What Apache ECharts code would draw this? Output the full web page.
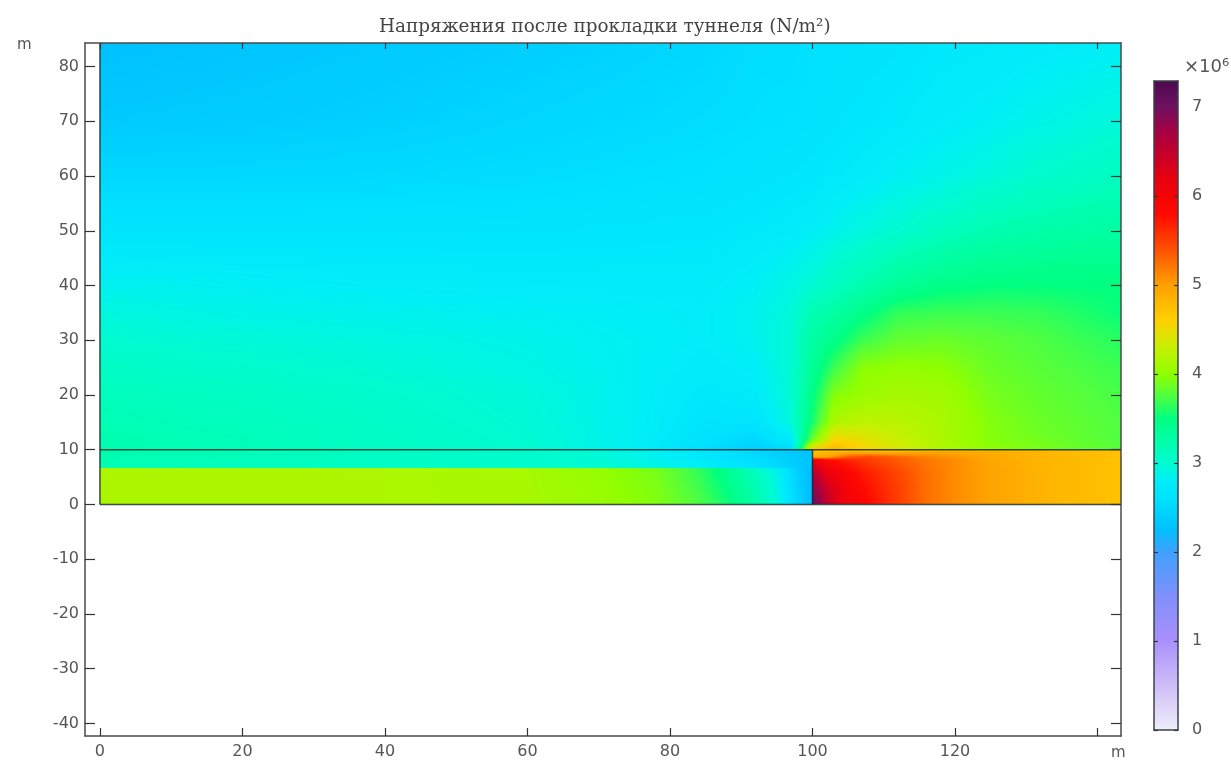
<!DOCTYPE html>
<html><head><meta charset="utf-8">
<style>html,body{margin:0;padding:0;background:#fff}#c{width:1231px;height:760px}</style>
<script src="https://cdn.jsdelivr.net/npm/echarts@6/dist/echarts.min.js"></script>
</head><body><div id="c"></div>
<script>
const titleText = 'Напряжения после прокладки туннеля (N/m²)';
const xTickValues = [0,20,40,60,80,100,120,140];
const xLabelValues = [0,20,40,60,80,100,120];
const yTickValues = [-40,-30,-20,-10,0,10,20,30,40,50,60,70,80];
const barTickValues = [0,1,2,3,4,5,6,7];

// colour scale: value (x10^6 N/m2) -> colour
const scaleValues = [0,0.5,1,1.5,2,2.25,2.6,2.8,3,3.3,3.5,3.75,4,4.3,4.6,5,5.4,5.8,6.2,6.7,7,7.29];
const scaleColors = ['#eeeefa','#cfbdf8','#aa90fb','#808ffc','#40a0ff','#00c0ff','#00e2ff','#00eef8','#00fcd0','#00ffa0','#00ff80','#50ff40','#90ff00','#c8f000','#ffd000','#ffa000','#ff5000','#ff0800','#e80010','#a80040','#701060','#4a0a50'];

// upper soil, y from 10 to the top
const topX = [0,20,40,60,75,85,92,97,100,103,107,112,118,125,132,143.3];
const topY = [10,12,15,20,25,30,35,40,50,60,70,84.3];
const topValues = [
 [3.20,3.15,3.08,3.00,2.82,2.55,2.40,2.55,4.60,4.85,4.60,4.40,4.18,4.00,3.92,3.78],
 [3.20,3.15,3.07,2.99,2.82,2.60,2.50,2.75,3.80,4.55,4.45,4.30,4.15,3.95,3.88,3.75],
 [3.17,3.12,3.05,2.97,2.82,2.65,2.65,2.95,3.55,4.15,4.25,4.22,4.15,3.95,3.85,3.75],
 [3.13,3.08,3.02,2.95,2.82,2.70,2.75,2.98,3.45,3.95,4.05,4.12,4.10,3.90,3.82,3.72],
 [3.07,3.02,2.97,2.90,2.82,2.75,2.80,2.98,3.35,3.68,3.98,4.02,4.00,3.85,3.78,3.68],
 [3.00,2.96,2.92,2.87,2.82,2.78,2.85,2.98,3.28,3.45,3.68,3.82,3.85,3.80,3.74,3.62],
 [2.93,2.88,2.85,2.82,2.80,2.78,2.85,2.95,3.18,3.28,3.45,3.65,3.68,3.68,3.66,3.52],
 [2.85,2.82,2.78,2.76,2.76,2.76,2.82,2.90,2.98,3.08,3.20,3.35,3.45,3.50,3.50,3.50],
 [2.65,2.65,2.65,2.65,2.67,2.68,2.72,2.76,2.80,2.86,2.93,3.00,3.10,3.20,3.25,3.30],
 [2.50,2.50,2.52,2.55,2.58,2.60,2.63,2.66,2.68,2.72,2.76,2.82,2.88,2.95,3.02,3.10],
 [2.35,2.38,2.42,2.48,2.52,2.55,2.58,2.60,2.62,2.65,2.68,2.72,2.77,2.82,2.88,2.95],
 [2.25,2.30,2.35,2.40,2.45,2.50,2.55,2.55,2.60,2.60,2.62,2.65,2.70,2.72,2.75,2.80]
];

// left of the tunnel face, below y = 10
const leftX = [0,20,40,60,70,78,84,88,92,95,98,100];
const lowerY = [0,6.7];
const lowerValues = [
 [4.15,4.15,4.15,4.13,4.05,3.95,3.75,3.55,3.25,2.95,2.45,2.20],
 [4.15,4.15,4.15,4.12,4.02,3.90,3.65,3.40,3.10,2.85,2.40,2.20]
];
const liningY = [6.7,10];
const liningValues = [
 [3.18,3.12,3.07,3.02,3.00,2.90,2.82,2.72,2.62,2.52,2.38,2.28],
 [3.20,3.15,3.08,3.02,2.95,2.82,2.68,2.58,2.48,2.40,2.32,2.28]
];

// right of the tunnel face, below y = 10
const rightX = [100,102,105,108,112,116,120,125,130,135,143.3];
const rightY = [0,3,6,8.2,8.7,9.5,10];
const rightValues = [
 [7.15,6.50,6.05,5.80,5.50,5.25,5.10,4.97,4.87,4.80,4.72],
 [6.90,6.40,5.95,5.75,5.50,5.25,5.10,4.97,4.87,4.80,4.72],
 [6.60,6.15,5.85,5.65,5.45,5.25,5.10,4.97,4.87,4.80,4.72],
 [6.20,5.80,5.65,5.50,5.35,5.20,5.10,4.95,4.85,4.80,4.72],
 [4.85,4.95,5.35,5.45,5.30,5.15,5.05,4.92,4.85,4.80,4.72],
 [4.75,4.80,4.85,4.85,4.85,4.95,4.95,4.90,4.85,4.80,4.72],
 [4.75,4.75,4.75,4.78,4.80,4.80,4.80,4.80,4.80,4.75,4.70]
];

// domain outline [x1,y1,x2,y2]
const boundaries = [[0,0,143.3,0],[0,10,143.3,10],[0,0,0,84.3],[100,0,100,10]];

function parse(h){return [parseInt(h.slice(1,3),16),parseInt(h.slice(3,5),16),parseInt(h.slice(5,7),16)];}
const scaleRgb=scaleColors.map(parse);
function rgbOf(v){
  const n=scaleValues.length;
  if(v<=scaleValues[0])return scaleRgb[0];
  if(v>=scaleValues[n-1])return scaleRgb[n-1];
  let i=0;while(scaleValues[i+1]<v)i++;
  const t=(v-scaleValues[i])/(scaleValues[i+1]-scaleValues[i]);
  const a=scaleRgb[i],b=scaleRgb[i+1];
  return [a[0]+(b[0]-a[0])*t,a[1]+(b[1]-a[1])*t,a[2]+(b[2]-a[2])*t];
}
function cells(xs,ys,vals){
  const out=[];
  for(let j=0;j<ys.length-1;j++)for(let i=0;i<xs.length-1;i++)
    out.push([xs[i],ys[j],xs[i+1],ys[j+1],vals[j][i],vals[j][i+1],vals[j+1][i],vals[j+1][i+1]]);
  return out;
}
const fieldCells=[...cells(topX,topY,topValues),...cells(leftX,lowerY,lowerValues),...cells(leftX,liningY,liningValues),...cells(rightX,rightY,rightValues)];

// shade one cell between its four corner readings
function shade(w,h,v00,v10,v01,v11){
  const cv=document.createElement('canvas');cv.width=w;cv.height=h;
  const ctx=cv.getContext('2d'),img=ctx.createImageData(w,h),d=img.data;
  for(let py=0;py<h;py++){
    const t=1-(py+0.5)/h;
    for(let px=0;px<w;px++){
      const u=(px+0.5)/w;
      const c=rgbOf((v00*(1-u)+v10*u)*(1-t)+(v01*(1-u)+v11*u)*t);
      const k=(py*w+px)*4;
      d[k]=c[0];d[k+1]=c[1];d[k+2]=c[2];d[k+3]=255;
    }
  }
  ctx.putImageData(img,0,0);
  return cv;
}
function drawCell(params,api){
  const p=api.coord([api.value(0),api.value(1)]),q=api.coord([api.value(2),api.value(3)]);
  const x=Math.round(p[0]),y=Math.round(q[1]),w=Math.round(q[0])-x,h=Math.round(p[1])-y;
  if(w<1||h<1)return null;
  return {type:'image',style:{image:shade(w,h,api.value(4),api.value(5),api.value(6),api.value(7)),x:x,y:y,width:w,height:h}};
}
function drawLine(params,api){
  const p=api.coord([api.value(0),api.value(1)]),q=api.coord([api.value(2),api.value(3)]);
  return {type:'line',shape:{x1:p[0],y1:p[1],x2:q[0],y2:q[1]},style:{stroke:'rgba(25,45,45,0.85)',lineWidth:1.5}};
}
function drawBar(params,api){
  const p=api.coord([0,scaleValues[0]]),q=api.coord([1,scaleValues[scaleValues.length-1]]);
  const span=scaleValues[scaleValues.length-1];
  return {type:'rect',shape:{x:p[0],y:q[1],width:q[0]-p[0],height:p[1]-q[1]},
    style:{fill:new echarts.graphic.LinearGradient(0,1,0,0,scaleValues.map((v,i)=>({offset:v/span,color:scaleColors[i]})))}};
}

const ink='#4a4a4a', labelStyle={color:'#555',fontFamily:'DejaVu Sans',fontSize:16};
const hidden={show:false};
function xAxisOf(pos,len,labels){
  return {type:'value',gridIndex:0,position:pos,min:-2.1,max:143.3,z:5,
    axisLine:{show:true,onZero:false,lineStyle:{color:ink,width:1.5}},
    axisTick:{show:true,inside:true,length:len,customValues:xTickValues,lineStyle:{color:'#333',width:1.2}},
    axisLabel:labels?Object.assign({show:true,margin:8,customValues:xLabelValues},labelStyle):hidden,
    splitLine:hidden};
}
function yAxisOf(pos,labels){
  return {type:'value',gridIndex:0,position:pos,min:-42.3,max:84.3,z:5,
    axisLine:{show:true,onZero:false,lineStyle:{color:ink,width:1.5}},
    axisTick:{show:true,inside:true,length:10,customValues:yTickValues,lineStyle:{color:'#333',width:1.2}},
    axisLabel:labels?Object.assign({show:true,margin:6,customValues:yTickValues},labelStyle):hidden,
    splitLine:hidden};
}
function barAxisOf(pos,labels){
  return {type:'value',gridIndex:1,position:pos,min:0,max:7.29,z:5,
    axisLine:{show:true,onZero:false,lineStyle:{color:'#3c4248',width:1.5}},
    axisTick:{show:true,inside:true,length:4,customValues:barTickValues,lineStyle:{color:'#333',width:1.2}},
    axisLabel:labels?Object.assign({show:true,margin:14,customValues:barTickValues},labelStyle):hidden,
    splitLine:hidden};
}
const option={
  animation:false,
  backgroundColor:'#fff',
  title:[
    {text:titleText,left:374,top:13,textStyle:{fontFamily:'DejaVu Serif',fontSize:18.4,fontWeight:'normal',color:'#444'}},
    {text:'m',left:12,top:33,textStyle:{fontFamily:'DejaVu Sans',fontSize:15,fontWeight:'normal',color:'#555'}},
    {text:'m',left:1106,top:741,textStyle:{fontFamily:'DejaVu Sans',fontSize:15,fontWeight:'normal',color:'#555'}},
    {text:'×10⁶',left:1179,top:53,textStyle:{fontFamily:'DejaVu Sans',fontSize:18,fontWeight:'normal',color:'#555'}}
  ],
  grid:[{left:85,top:43,width:1036,height:694},{left:1154,top:81,width:24,height:649}],
  xAxis:[xAxisOf('bottom',8,true),xAxisOf('top',6,false),
    {type:'value',gridIndex:1,min:0,max:1,position:'bottom',z:5,axisLine:{show:true,onZero:false,lineStyle:{color:'#3c4248',width:1.5}},axisTick:hidden,axisLabel:hidden,splitLine:hidden},
    {type:'value',gridIndex:1,min:0,max:1,position:'top',z:5,axisLine:{show:true,onZero:false,lineStyle:{color:'#3c4248',width:1.5}},axisTick:hidden,axisLabel:hidden,splitLine:hidden}],
  yAxis:[yAxisOf('left',true),yAxisOf('right',false),barAxisOf('left',false),barAxisOf('right',true)],
  series:[
    {type:'custom',name:'field',xAxisIndex:0,yAxisIndex:0,renderItem:drawCell,data:fieldCells,encode:{x:[0,2],y:[1,3]},silent:true,clip:true,z:2},
    {type:'custom',name:'boundaries',xAxisIndex:0,yAxisIndex:0,renderItem:drawLine,data:boundaries,encode:{x:[0,2],y:[1,3]},silent:true,z:4},
    {type:'custom',name:'colorbar',xAxisIndex:2,yAxisIndex:2,renderItem:drawBar,data:[[0,0,1,7.29]],encode:{x:[0,2],y:[1,3]},silent:true,z:2}
  ]
};
echarts.init(document.getElementById('c'),null,{renderer:'canvas'}).setOption(option);
</script></body></html>
